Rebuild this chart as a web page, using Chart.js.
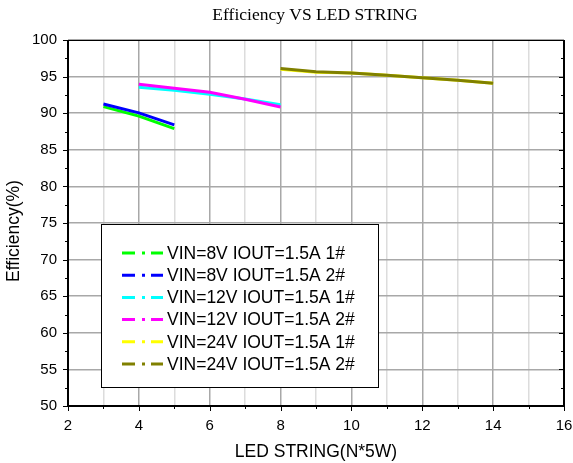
<!DOCTYPE html>
<html>
<head>
<meta charset="utf-8">
<script src="https://cdn.jsdelivr.net/npm/chart.js@4"></script>
<style>
  html, body { margin: 0; padding: 0; background: #fff; }
  #wrap { width: 573px; height: 463px; }
</style>
</head>
<body>
<div id="wrap"><canvas id="effChart" width="573" height="463"></canvas></div>
<script>
// LED string count (N*5W)
const xs8 = [3, 4, 5];
const xs12 = [4, 5, 6, 7, 8];
const xs24 = [8, 9, 10, 11, 12, 13, 14];

// efficiency (%)
const vin8_1 = [90.9, 89.6, 87.9];
const vin8_2 = [91.25, 90.05, 88.4];
const vin12_1 = [93.55, 93.15, 92.6, 91.95, 91.15];
const vin12_2 = [93.95, 93.4, 92.85, 91.9, 90.85];
const vin24_1 = [96.0, 95.6, 95.5, 95.2, 94.85, 94.5, 94.1];
const vin24_2 = [96.1, 95.65, 95.5, 95.2, 94.85, 94.5, 94.1];

const seriesLabels = [
  "VIN=8V IOUT=1.5A 1#",
  "VIN=8V IOUT=1.5A 2#",
  "VIN=12V IOUT=1.5A 1#",
  "VIN=12V IOUT=1.5A 2#",
  "VIN=24V IOUT=1.5A 1#",
  "VIN=24V IOUT=1.5A 2#",
];
const seriesColors = ["#00ff00", "#0000ff", "#00ffff", "#ff00ff", "#ffff00", "#808000"];

const pts = (xs, ys) => xs.map((x, i) => ({ x: x, y: ys[i] }));
const seriesData = [
  pts(xs8, vin8_1), pts(xs8, vin8_2),
  pts(xs12, vin12_1), pts(xs12, vin12_2),
  pts(xs24, vin24_1), pts(xs24, vin24_2),
];

const FONT = "'Liberation Sans', Arial, sans-serif";

// title, axis titles, tick marks, frame and the boxed legend
const decorPlugin = {
  id: "decor",
  afterDraw(chart) {
    const ctx = chart.ctx;
    const a = chart.chartArea;
    const sx = chart.scales.x, sy = chart.scales.y;
    ctx.save();

    // frame
    ctx.strokeStyle = "#000";
    ctx.lineWidth = 2;
    ctx.beginPath();
    ctx.moveTo(a.left, a.top); ctx.lineTo(a.left, a.bottom); ctx.lineTo(a.right, a.bottom);
    ctx.stroke();
    ctx.lineWidth = 1;
    ctx.beginPath();
    ctx.moveTo(a.left, a.top + 0.5); ctx.lineTo(a.right, a.top + 0.5);
    ctx.stroke();
    ctx.lineWidth = 2;
    ctx.beginPath();
    ctx.moveTo(a.right, a.top); ctx.lineTo(a.right, a.bottom);
    ctx.stroke();

    // tick marks
    ctx.lineWidth = 1;
    ctx.beginPath();
    for (let v = 2; v <= 16; v++) {
      const px = Math.round(sx.getPixelForValue(v)) + 0.5;
      const len = v % 2 === 0 ? 5 : 3;
      ctx.moveTo(px, a.bottom); ctx.lineTo(px, a.bottom + len);
    }
    for (let v = 50; v <= 100; v += 2.5) {
      const py = Math.round(sy.getPixelForValue(v)) + 0.5;
      const len = v % 5 === 0 ? 5 : 3;
      ctx.moveTo(a.left, py); ctx.lineTo(a.left - len, py);
      ctx.moveTo(a.right, py); ctx.lineTo(a.right - len, py);
    }
    ctx.stroke();

    // title
    ctx.fillStyle = "#000";
    ctx.textAlign = "center";
    ctx.textBaseline = "middle";
    ctx.font = "17.5px 'Liberation Serif', 'Times New Roman', serif";
    ctx.fillText("Efficiency VS LED STRING", 315, 15);

    // axis titles
    ctx.font = "17.5px " + FONT;
    ctx.fillText("LED STRING(N*5W)", 316, 452);
    ctx.save();
    ctx.translate(14, 231);
    ctx.rotate(-Math.PI / 2);
    ctx.fillText("Efficiency(%)", 0, 0);
    ctx.restore();

    // legend box
    ctx.fillStyle = "#fff";
    ctx.fillRect(101, 224, 277, 163);
    ctx.strokeStyle = "#000";
    ctx.lineWidth = 1;
    ctx.strokeRect(101.5, 224.5, 277, 163);
    ctx.textAlign = "left";
    ctx.font = "17.5px " + FONT;
    seriesLabels.forEach((lab, i) => {
      const y = 253 + i * 22.2;
      ctx.strokeStyle = seriesColors[i];
      ctx.lineWidth = 3;
      ctx.beginPath();
      ctx.moveTo(122, y); ctx.lineTo(135, y);
      ctx.moveTo(142, y); ctx.lineTo(145, y);
      ctx.moveTo(151, y); ctx.lineTo(163, y);
      ctx.stroke();
      ctx.fillStyle = "#000";
      ctx.fillText(lab, 167, y + 1);
    });
    ctx.restore();
  },
};

new Chart(document.getElementById("effChart"), {
  type: "line",
  data: {
    datasets: seriesLabels.map((lab, i) => ({
      label: lab,
      data: seriesData[i],
      borderColor: seriesColors[i],
      backgroundColor: seriesColors[i],
      borderWidth: 3,
      pointRadius: 0,
      tension: 0,
      fill: false,
      order: seriesLabels.length - i,
    })),
  },
  options: {
    responsive: false,
    animation: false,
    layout: { padding: { top: 40, right: 9, left: 0, bottom: 0 } },
    plugins: {
      legend: { display: false },
      tooltip: { enabled: false },
    },
    scales: {
      x: {
        type: "linear",
        min: 2,
        max: 16,
        afterFit: (s) => { s.height = 57; s.paddingLeft = 0; s.paddingRight = 0; },
        ticks: {
          stepSize: 1,
          padding: 11,
          color: "#000",
          font: { family: FONT, size: 15 },
          callback: (v) => (v % 2 === 0 ? v : ""),
        },
        grid: {
          drawTicks: false,
          color: (c) => (c.tick && c.tick.value % 2 === 0 ? "#a8a8a8" : "#dcdcdc"),
          lineWidth: 1.5,
        },
        border: { display: false },
      },
      y: {
        min: 50,
        max: 100,
        afterFit: (s) => { s.width = 68; s.paddingTop = 0; s.paddingBottom = 0; },
        ticks: {
          stepSize: 2.5,
          padding: 11,
          color: "#000",
          font: { family: FONT, size: 15 },
          callback: (v) => (v % 5 === 0 ? v : ""),
        },
        grid: {
          drawTicks: false,
          color: (c) => (c.tick && c.tick.value % 5 === 0 ? "#a8a8a8" : "#dcdcdc"),
          lineWidth: 1.5,
        },
        border: { display: false },
      },
    },
  },
  plugins: [decorPlugin],
});
</script>
</body>
</html>
